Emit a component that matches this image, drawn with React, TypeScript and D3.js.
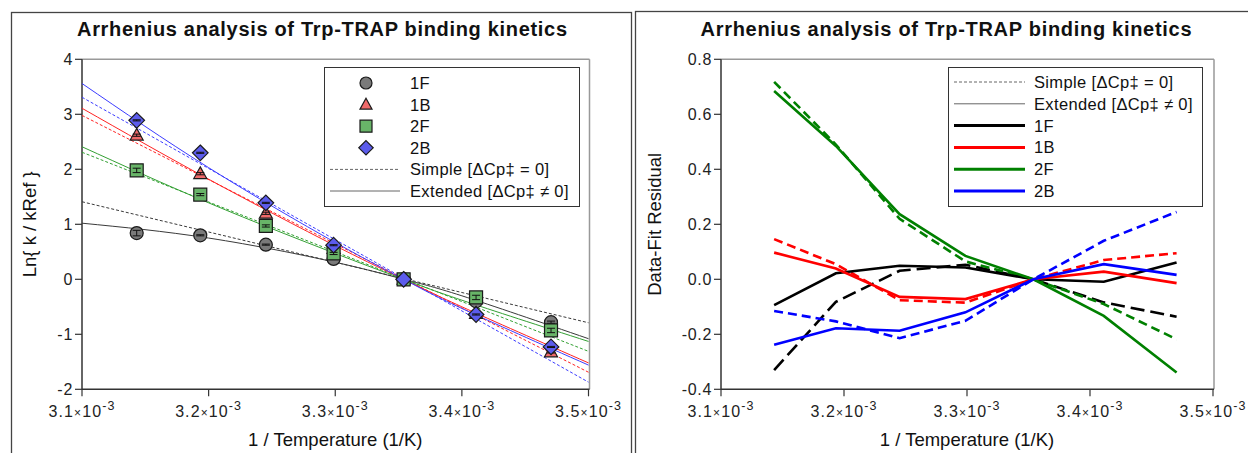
import * as d3 from "d3";

// 1/T (1/K) for 45, 40, 35, 30, 25, 20, 15 °C
const invT = [3.1432e-3, 3.1934e-3, 3.2452e-3, 3.2987e-3, 3.354e-3, 3.4112e-3, 3.4704e-3];

// ln(k / kRef) data points
const ln1F = [0.84, 0.8, 0.63, 0.37, 0, -0.4, -0.78];
const ln1B = [2.62, 1.92, 1.2, 0.56, 0, -0.62, -1.32];
const ln2F = [1.98, 1.54, 0.97, 0.47, 0, -0.33, -0.93];
const ln2B = [2.89, 2.3, 1.39, 0.62, 0, -0.64, -1.23];
const err1F = [0.05, 0.01, 0.01, 0.01, 0, 0.02, 0.02];
const err1B = [0.02, 0.02, 0.02, 0.01, 0, 0.02, 0.02];
const err2F = [0.04, 0.02, 0.02, 0.02, 0, 0.04, 0.04];
const err2B = [0.01, 0.01, 0.01, 0.01, 0, 0.01, 0.01];

// simple fits (straight lines) at the axis ends
const simpleX = [3.1e-3, 3.5e-3];
const simple1F = [1.41, -0.79];
const simple1B = [2.98, -1.69];
const simple2F = [2.31, -1.31];
const simple2B = [3.31, -1.87];

// extended fits (curved), sampled along x
const extX = [3.1e-3, 3.2e-3, 3.3e-3, 3.354e-3, 3.4e-3, 3.5e-3];
const ext1F = [1.02, 0.75, 0.31, 0, -0.3, -1.08];
const ext1B = [3.11, 1.82, 0.61, 0, -0.5, -1.52];
const ext2F = [2.41, 1.39, 0.47, 0, -0.38, -1.13];
const ext2B = [3.56, 2.03, 0.67, 0, -0.53, -1.56];

// data - fit residuals
const res1FExt = [-0.094, 0.022, 0.049, 0.043, 0, -0.009, 0.061];
const res1FSimple = [-0.33, -0.082, 0.031, 0.053, 0, -0.084, -0.136];
const res1BExt = [0.097, 0.039, -0.064, -0.072, 0, 0.028, -0.014];
const res1BSimple = [0.146, 0.055, -0.076, -0.085, 0, 0.07, 0.095];
const res2FExt = [0.685, 0.485, 0.237, 0.085, 0, -0.133, -0.339];
const res2FSimple = [0.718, 0.49, 0.22, 0.065, 0, -0.09, -0.218];
const res2BExt = [-0.238, -0.178, -0.187, -0.12, 0, 0.055, 0.016];
const res2BSimple = [-0.115, -0.153, -0.214, -0.151, 0, 0.14, 0.245];

const seriesNames = ["1F", "1B", "2F", "2B"];
const xTicks = [3.1e-3, 3.2e-3, 3.3e-3, 3.4e-3, 3.5e-3];
const yTicksL = [-2, -1, 0, 1, 2, 3, 4];
const yTicksR = [-0.4, -0.2, 0, 0.2, 0.4, 0.6, 0.8];

const TITLE = "Arrhenius analysis of Trp-TRAP binding kinetics";
const FONT = "'Liberation Sans', Arial, sans-serif";

const markerFill = ["#7a7a7a", "#f06a6a", "#68b468", "#5c5cec"];
const fitColor = ["#3a3a3a", "#ff2222", "#33a033", "#3c3cff"];
const resColor = ["#000000", "#ff0000", "#008000", "#0000ff"];
const shapes = ["circle", "triangle", "square", "diamond"];

const markerPath = (shape: string, cx: number, cy: number, s: number) => {
  const p = d3.path();
  if (shape === "circle") {
    p.arc(cx, cy, s, 0, Math.PI * 2);
  } else if (shape === "triangle") {
    p.moveTo(cx, cy - s * 1.05);
    p.lineTo(cx + s, cy + s * 0.75);
    p.lineTo(cx - s, cy + s * 0.75);
    p.closePath();
  } else if (shape === "square") {
    p.rect(cx - s, cy - s, 2 * s, 2 * s);
  } else {
    const r = s * 1.2;
    p.moveTo(cx, cy - r);
    p.lineTo(cx + r, cy);
    p.lineTo(cx, cy + r);
    p.lineTo(cx - r, cy);
    p.closePath();
  }
  return p.toString();
};

const XTickLabel = ({ x, v }: { x: number; v: number }) => (
  <text x={x} y={416.5} textAnchor="middle" fontSize={16} letterSpacing={1.1} fill="#222">
    {(v * 1000).toFixed(1)}
    <tspan fontSize={12}>×</tspan>10
    <tspan fontSize={12.5} dy={-7}>-3</tspan>
  </text>
);

type AxesProps = {
  x: d3.ScaleLinear<number, number>;
  y: d3.ScaleLinear<number, number>;
  yTicks: number[];
  fmt: (v: number) => string;
  xLabel: string;
  yLabel: string;
  yLabelX: number;
};

const Axes = ({ x, y, yTicks, fmt, xLabel, yLabel, yLabelX }: AxesProps) => {
  const [x0, x1] = x.range();
  const [y0, y1] = y.range();
  return (
    <g fontFamily={FONT}>
      <line x1={x0} x2={x1 + 1} y1={y1} y2={y1} stroke="#999" strokeWidth={1.5} />
      <line x1={x1 + 1} x2={x1 + 1} y1={y1} y2={y0} stroke="#999" strokeWidth={1.5} />
      <line x1={x0} x2={x0} y1={y1} y2={y0} stroke="#333" strokeWidth={1.5} />
      <line x1={x0} x2={x1 + 1} y1={y0} y2={y0} stroke="#333" strokeWidth={1.5} />
      {yTicks.map((t) => (
        <g key={t}>
          <line x1={x0 - 7} x2={x0} y1={y(t)} y2={y(t)} stroke="#333" strokeWidth={1.2} />
          <text x={x0 - 9} y={y(t) + 5.5} textAnchor="end" fontSize={16} letterSpacing={0.7} fill="#222">
            {fmt(t)}
          </text>
        </g>
      ))}
      {xTicks.map((t) => (
        <g key={t}>
          <line x1={x(t)} x2={x(t)} y1={y0} y2={y0 + 7} stroke="#333" strokeWidth={1.2} />
          <XTickLabel x={x(t)} v={t} />
        </g>
      ))}
      <text x={(x0 + x1) / 2} y={446} textAnchor="middle" fontSize={18.5} fill="#111">
        {xLabel}
      </text>
      <text
        transform={`translate(${yLabelX},${(y0 + y1) / 2}) rotate(-90)`}
        textAnchor="middle"
        fontSize={18.5}
        fill="#111"
      >
        {yLabel}
      </text>
    </g>
  );
};

export default function App() {
  const xL = d3.scaleLinear().domain([3.1e-3, 3.5e-3]).range([82, 588.5]);
  const yL = d3.scaleLinear().domain([-2, 4]).range([389.3, 59.3]);
  const xR = d3.scaleLinear().domain([3.1e-3, 3.5e-3]).range([721, 1213]);
  const yR = d3.scaleLinear().domain([-0.4, 0.8]).range([389.3, 59.3]);

  const pts = [ln1F, ln1B, ln2F, ln2B];
  const errs = [err1F, err1B, err2F, err2B];
  const simples = [simple1F, simple1B, simple2F, simple2B];
  const exts = [ext1F, ext1B, ext2F, ext2B];
  const resExt = [res1FExt, res1BExt, res2FExt, res2BExt];
  const resSimple = [res1FSimple, res1BSimple, res2FSimple, res2BSimple];

  const lineL = d3
    .line<[number, number]>()
    .x((d) => xL(d[0]))
    .y((d) => yL(d[1]));
  const curveL = d3
    .line<[number, number]>()
    .x((d) => xL(d[0]))
    .y((d) => yL(d[1]))
    .curve(d3.curveNatural);
  const lineR = d3
    .line<[number, number]>()
    .x((d) => xR(d[0]))
    .y((d) => yR(d[1]));

  const zip = (xs: number[], ys: number[]) => xs.map((v, i) => [v, ys[i]] as [number, number]);

  const legRowsL = [83, 104.6, 126.2, 147.8, 169.4, 191];
  const legRowsR = [82, 103.8, 125.6, 147.4, 169.2, 191];
  const legText = { fontSize: 16.5, letterSpacing: 0.35, fill: "#111" };

  return (
    <div style={{ position: "absolute", left: 0, top: 0 }}>
      <svg width={1248} height={453} fontFamily={FONT}>
        <rect x={0} y={0} width={1248} height={453} fill="white" />
        {/* panel borders */}
        <rect x={11.5} y={12.5} width={620} height={480} fill="none" stroke="#444" strokeWidth={1.3} />
        <rect x={635.5} y={11.5} width={640} height={480} fill="none" stroke="#444" strokeWidth={1.3} />

        {/* ---------- left panel ---------- */}
        <text x={322} y={36} textAnchor="middle" fontSize={20} fontWeight="bold" textLength={490} lengthAdjust="spacing" fill="#111">
          {TITLE}
        </text>
        <Axes
          x={xL}
          y={yL}
          yTicks={yTicksL}
          fmt={(v) => String(v)}
          xLabel="1 / Temperature (1/K)"
          yLabel="Ln{ k / kRef }"
          yLabelX={36}
        />
        {simples.map((s, i) => (
          <path key={"s" + i} d={lineL(zip(simpleX, s)) || ""} fill="none" stroke={fitColor[i]} strokeWidth={1} strokeDasharray="3,2" />
        ))}
        {exts.map((s, i) => (
          <path key={"e" + i} d={curveL(zip(extX, s)) || ""} fill="none" stroke={fitColor[i]} strokeWidth={1} />
        ))}
        {pts.map((s, i) =>
          s.map((v, j) => {
            const cx = xL(invT[j]);
            const cy = yL(v);
            const e = errs[i][j];
            return (
              <g key={i + "-" + j}>
                <path d={markerPath(shapes[i], cx, cy, 6.5)} fill={markerFill[i]} stroke="#1a1a1a" strokeWidth={1.2} />
                {e > 0 && (
                  <g stroke="#111" strokeWidth={1}>
                    <line x1={cx} x2={cx} y1={yL(v + e)} y2={yL(v - e)} />
                    <line x1={cx - 4} x2={cx + 4} y1={yL(v + e)} y2={yL(v + e)} />
                    <line x1={cx - 4} x2={cx + 4} y1={yL(v - e)} y2={yL(v - e)} />
                  </g>
                )}
              </g>
            );
          })
        )}
        {/* left legend */}
        <rect x={324.5} y={67.5} width={255} height={139} fill="white" stroke="#333" strokeWidth={1} />
        {seriesNames.map((n, i) => (
          <g key={n}>
            <path d={markerPath(shapes[i], 366, legRowsL[i], 6)} fill={markerFill[i]} stroke="#1a1a1a" strokeWidth={1.2} />
            <text x={410} y={legRowsL[i] + 6} {...legText}>
              {n}
            </text>
          </g>
        ))}
        <line x1={330} x2={400} y1={legRowsL[4]} y2={legRowsL[4]} stroke="#666" strokeWidth={1} strokeDasharray="3,2" />
        <text x={410} y={legRowsL[4] + 6} {...legText}>
          Simple [ΔCp‡ = 0]
        </text>
        <line x1={330} x2={400} y1={legRowsL[5]} y2={legRowsL[5]} stroke="#666" strokeWidth={1} />
        <text x={410} y={legRowsL[5] + 6} {...legText}>
          Extended [ΔCp‡ ≠ 0]
        </text>

        {/* ---------- right panel ---------- */}
        <text x={946} y={36} textAnchor="middle" fontSize={20} fontWeight="bold" textLength={491} lengthAdjust="spacing" fill="#111">
          {TITLE}
        </text>
        <Axes
          x={xR}
          y={yR}
          yTicks={yTicksR}
          fmt={(v) => v.toFixed(1)}
          xLabel="1 / Temperature (1/K)"
          yLabel="Data-Fit Residual"
          yLabelX={661}
        />
        {resSimple.map((s, i) => (
          <path
            key={"rs" + i}
            d={lineR(zip(invT, s)) || ""}
            fill="none"
            stroke={resColor[i]}
            strokeWidth={2.6}
            strokeDasharray={i === 0 ? "14,6" : "9,5"}
          />
        ))}
        {resExt.map((s, i) => (
          <path key={"re" + i} d={lineR(zip(invT, s)) || ""} fill="none" stroke={resColor[i]} strokeWidth={2.6} />
        ))}
        {/* right legend */}
        <rect x={948.5} y={67.5} width={254} height={139} fill="white" stroke="#333" strokeWidth={1} />
        <line x1={954} x2={1025} y1={legRowsR[0]} y2={legRowsR[0]} stroke="#666" strokeWidth={1} strokeDasharray="3,2" />
        <text x={1034} y={legRowsR[0] + 6} {...legText}>
          Simple [ΔCp‡ = 0]
        </text>
        <line x1={954} x2={1025} y1={legRowsR[1]} y2={legRowsR[1]} stroke="#666" strokeWidth={1} />
        <text x={1034} y={legRowsR[1] + 6} {...legText}>
          Extended [ΔCp‡ ≠ 0]
        </text>
        {seriesNames.map((n, i) => (
          <g key={"lr" + n}>
            <line x1={954} x2={1025} y1={legRowsR[i + 2]} y2={legRowsR[i + 2]} stroke={resColor[i]} strokeWidth={3} />
            <text x={1034} y={legRowsR[i + 2] + 6} {...legText}>
              {n}
            </text>
          </g>
        ))}
      </svg>
    </div>
  );
}
